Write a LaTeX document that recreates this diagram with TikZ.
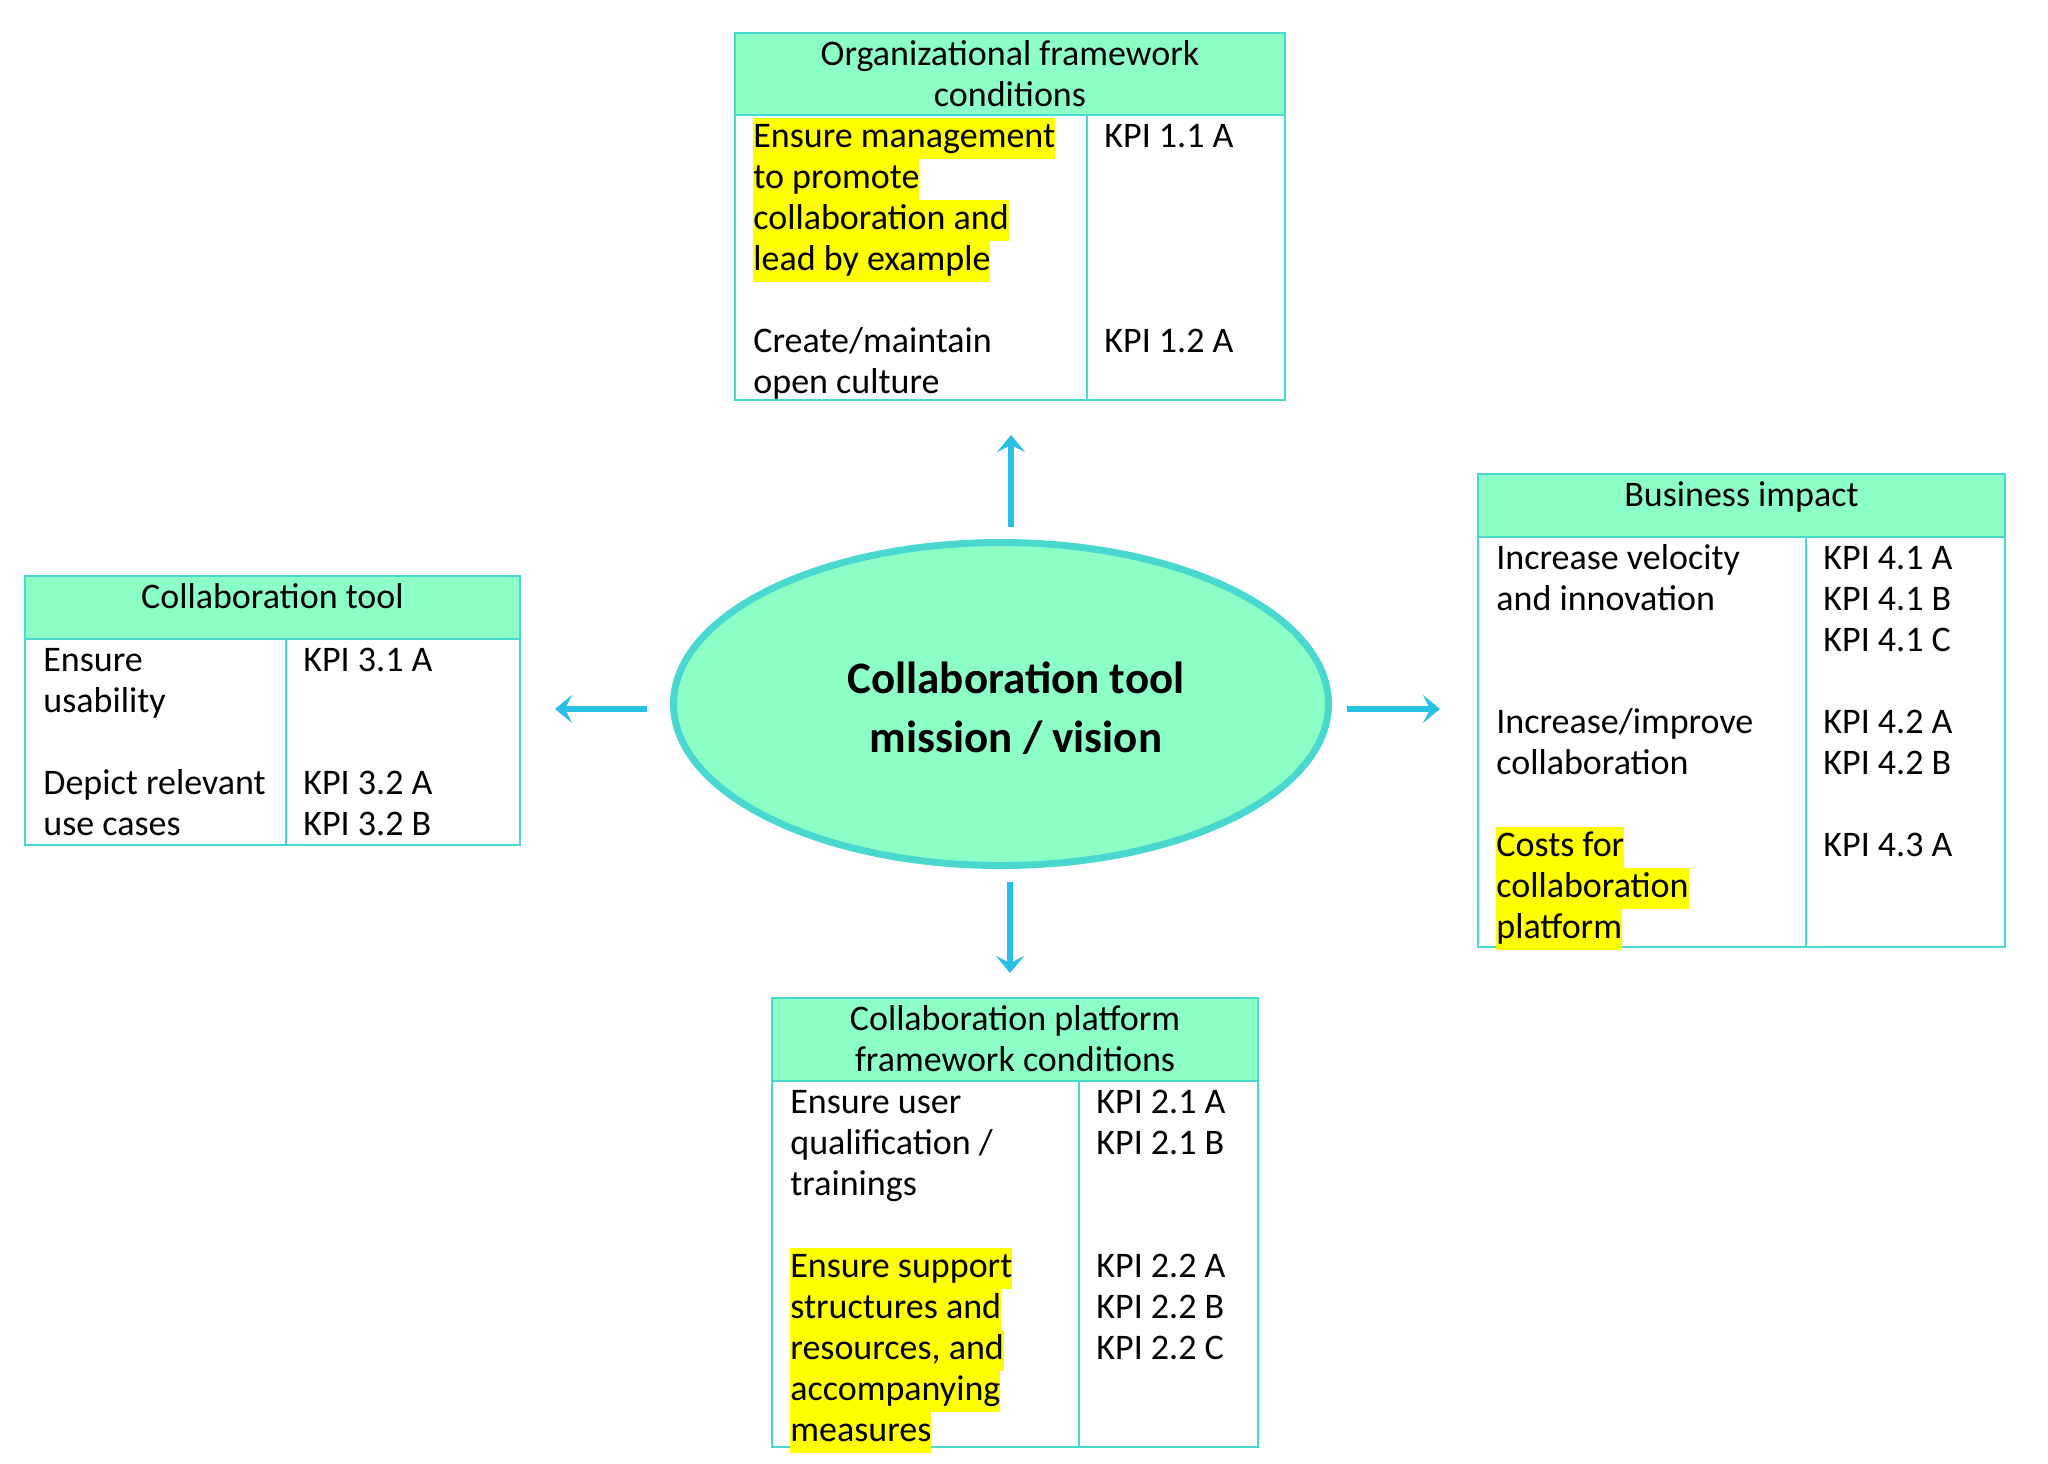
\documentclass[tikz,border=0pt]{standalone}
\usepackage{fontspec}
\setmainfont{Carlito}
\usetikzlibrary{arrows.meta,shapes.geometric}

\definecolor{mint}{HTML}{8CFFC6}
\definecolor{turq}{HTML}{48D8D0}
\definecolor{arrowblue}{HTML}{29C0E6}
\definecolor{hlyellow}{HTML}{FFFF00}

\newcommand\cellfont{\fontsize{18}{20.5}\selectfont}
\newcommand\titlefont{\fontsize{22.5}{29.5}\selectfont\bfseries}
\newcommand\cstrut{\rule[-5.5pt]{0pt}{20.5pt}}
\newcommand\hl[1]{{\setlength{\fboxsep}{0pt}\colorbox{hlyellow}{\cstrut#1}}}

\tikzstyle{head}=[draw=turq, fill=mint, line width=1pt, inner sep=0, outer sep=0, anchor=north west]
\tikzstyle{cell}=[draw=turq, line width=1pt, inner sep=0, outer sep=0, anchor=north west]
\tikzstyle{htext}=[inner sep=0, align=center, anchor=north, font=\cellfont]
\tikzstyle{ctext}=[inner sep=0, align=left, anchor=north west, font=\cellfont]
\tikzstyle{spoke}=[-{Stealth[length=8.5pt,width=14pt,inset=3.5pt]}, line width=2.7pt, draw=arrowblue]

\begin{document}
\begin{tikzpicture}[x=0.5pt, y=-0.5pt]
  \useasboundingbox (0,0) rectangle (2048,1463);

  % mission / vision
  \node[ellipse, draw=turq, fill=mint, line width=3.5pt, minimum width=327.5pt,
        minimum height=161.5pt, inner sep=0] (vision) at (1001,704) {};
  \node[font=\titlefont, align=center, inner sep=0] (visiontext) at (1016,708)
    {Collaboration tool\\mission / vision};

  % organizational framework conditions
  \node[head, minimum width=275pt, minimum height=41pt] (orghead) at (735,33) {};
  \node[cell, minimum width=176pt, minimum height=142.5pt] (orgleft) at (orghead.south west) {};
  \node[cell, minimum width=99pt, minimum height=142.5pt] (orgright) at (orgleft.north east) {};
  \node[htext] (orgtitle) at ([yshift=-1pt]orghead.north)
    {\cstrut Organizational framework\\conditions};
  \node[ctext] (orgtasks) at ([shift={(9pt,-1.2pt)}]orgleft.north west)
    {\hl{Ensure management}\\\hl{to promote}\\\hl{collaboration and}\\\hl{lead by example}\\[20.5pt]Create/maintain\\open culture};
  \node[ctext] (orgkpis) at ([shift={(8.5pt,-1.2pt)}]orgright.north west)
    {\cstrut KPI 1.1 A\\[82pt]KPI 1.2 A};

  % collaboration tool
  \node[head, minimum width=247.5pt, minimum height=31.5pt] (toolhead) at (25,576) {};
  \node[cell, minimum width=130.5pt, minimum height=103pt] (toolleft) at (toolhead.south west) {};
  \node[cell, minimum width=117pt, minimum height=103pt] (toolright) at (toolleft.north east) {};
  \node[htext] (tooltitle) at ([yshift=-1pt]toolhead.north) {\cstrut Collaboration tool};
  \node[ctext] (tooltasks) at ([shift={(9pt,-1.2pt)}]toolleft.north west)
    {\cstrut Ensure\\usability\\[20.5pt]Depict relevant\\use cases};
  \node[ctext] (toolkpis) at ([shift={(8.5pt,-1.2pt)}]toolright.north west)
    {\cstrut KPI 3.1 A\\[41pt]KPI 3.2 A\\KPI 3.2 B};

  % business impact
  \node[head, minimum width=263.5pt, minimum height=31.5pt] (impacthead) at (1478,474) {};
  \node[cell, minimum width=164pt, minimum height=205pt] (impactleft) at (impacthead.south west) {};
  \node[cell, minimum width=99.5pt, minimum height=205pt] (impactright) at (impactleft.north east) {};
  \node[htext] (impacttitle) at ([yshift=-1pt]impacthead.north) {\cstrut Business impact};
  \node[ctext] (impacttasks) at ([shift={(9pt,-1.2pt)}]impactleft.north west)
    {\cstrut Increase velocity\\and innovation\\[41pt]Increase/improve\\collaboration\\[20.5pt]\hl{Costs for}\\\hl{collaboration}\\\hl{platform}};
  \node[ctext] (impactkpis) at ([shift={(8.5pt,-1.2pt)}]impactright.north west)
    {\cstrut KPI 4.1 A\\KPI 4.1 B\\KPI 4.1 C\\[20.5pt]KPI 4.2 A\\KPI 4.2 B\\[20.5pt]KPI 4.3 A};

  % collaboration platform framework conditions
  \node[head, minimum width=243pt, minimum height=41.5pt] (platformhead) at (772,998) {};
  \node[cell, minimum width=153.5pt, minimum height=183pt] (platformleft) at (platformhead.south west) {};
  \node[cell, minimum width=89.5pt, minimum height=183pt] (platformright) at (platformleft.north east) {};
  \node[htext] (platformtitle) at ([yshift=-1pt]platformhead.north)
    {\cstrut Collaboration platform\\framework conditions};
  \node[ctext] (platformtasks) at ([shift={(9pt,-1.2pt)}]platformleft.north west)
    {\cstrut Ensure user\\qualification /\\trainings\\[20.5pt]\hl{Ensure support}\\\hl{structures and}\\\hl{resources, and}\\\hl{accompanying}\\\hl{measures}};
  \node[ctext] (platformkpis) at ([shift={(8.5pt,-1.2pt)}]platformright.north west)
    {\cstrut KPI 2.1 A\\KPI 2.1 B\\[41pt]KPI 2.2 A\\KPI 2.2 B\\KPI 2.2 C};

  % arrows
  \coordinate (upfrom) at (1011,527);
  \coordinate (upto) at (1011,435);
  \coordinate (downfrom) at (1010,882);
  \coordinate (downto) at (1010,973);
  \coordinate (leftfrom) at (647,709);
  \coordinate (leftto) at (555,709);
  \coordinate (rightfrom) at (1347,709);
  \coordinate (rightto) at (1440,709);
  \foreach \d in {up, down, left, right} {%
    \draw[spoke] (\d from) -- (\d to);
  }
\end{tikzpicture}
\end{document}
